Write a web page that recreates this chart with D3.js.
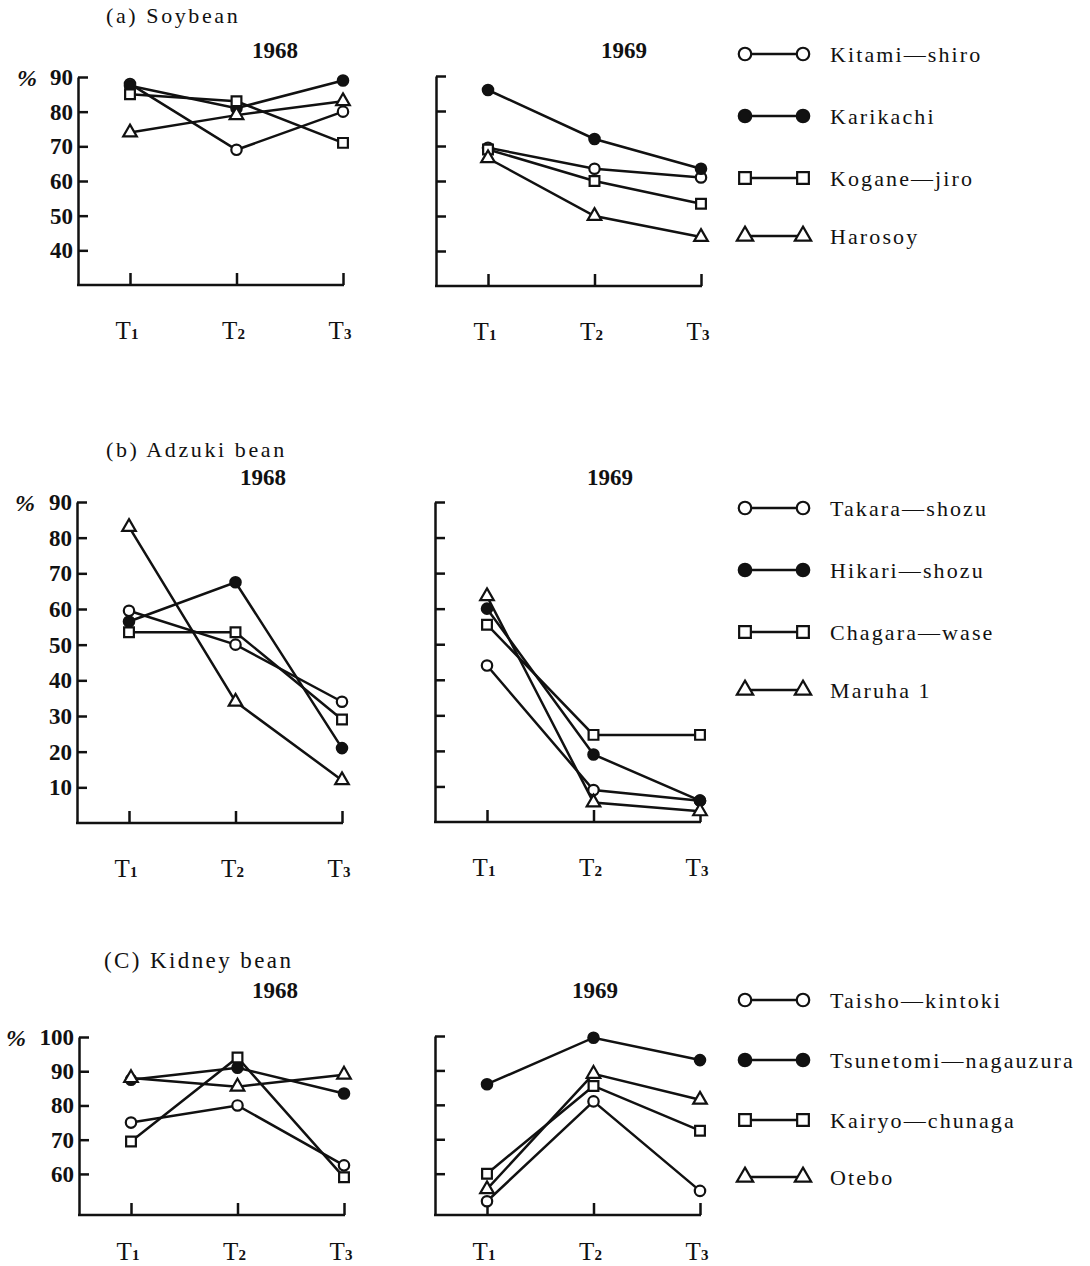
<!DOCTYPE html>
<html>
<head>
<meta charset="utf-8">
<script src="https://cdn.jsdelivr.net/npm/d3@7"></script>
<style>
  body { margin: 0; background: #fff; }
  svg { display: block; }
  text { font-family: "Liberation Serif", "DejaVu Serif", serif; fill: #111; }
</style>
</head>
<body>
<svg id="chart" width="1090" height="1266"></svg>
<script>
// Data
const timePoints = ["T1", "T2", "T3"]
const markerKinds = ["open-circle", "filled-circle", "square", "triangle"]

const soyVarieties = ["Kitami—shiro", "Karikachi", "Kogane—jiro", "Harosoy"]
const soy1968 = [[88, 69, 80], [87.5, 81, 89], [85, 83, 71], [74, 79, 83]]
const soy1969 = [[69.5, 63.5, 61], [86, 72, 63.5], [69, 60, 53.5], [66.5, 50, 44]]
const soyTicks = [40, 50, 60, 70, 80, 90]

const adzukiVarieties = ["Takara—shozu", "Hikari—shozu", "Chagara—wase", "Maruha 1"]
const adzuki1968 = [[59.5, 50, 34], [56.5, 67.5, 21], [53.5, 53.5, 29], [83, 34, 12]]
const adzuki1969 = [[44, 9, 6], [60, 19, 6], [55.5, 24.5, 24.5], [63.5, 5.5, 3]]
const adzukiTicks = [10, 20, 30, 40, 50, 60, 70, 80, 90]

const kidneyVarieties = ["Taisho—kintoki", "Tsunetomi—nagauzura", "Kairyo—chunaga", "Otebo"]
const kidney1968 = [[75, 80, 62.5], [87.5, 91, 83.5], [69.5, 94, 59], [88, 85.5, 89]]
const kidney1969 = [[52, 81, 55], [86, 99.5, 93], [60, 85.5, 72.5], [55.5, 89, 81.5]]
const kidneyTicks = [60, 70, 80, 90, 100]

const svg = d3.select("#chart")

function drawMarker(g, kind, x, y, scale) {
    const s = scale || 1
    if (kind == "open-circle" || kind == "filled-circle") {
        g.append("circle")
            .attr("cx", x).attr("cy", y).attr("r", 5.2 * s)
            .attr("fill", kind == "filled-circle" ? "#111" : "#fff")
            .attr("stroke", "#111").attr("stroke-width", 2.2)
    } else {
        const type = kind == "square" ? d3.symbolSquare : d3.symbolTriangle
        const size = (kind == "square" ? 95 : 80) * s * s
        g.append("path")
            .attr("d", d3.symbol().type(type).size(size)())
            .attr("transform", `translate(${x},${y})`)
            .attr("fill", "#fff")
            .attr("stroke", "#111").attr("stroke-width", 2.2)
    }
}

// One small panel: y axis at x0, bottom baseline at y(yMin)
function drawPanel(x0, yDomain, yRange, ticks, series, showLabels, labelGap) {
    const g = svg.append("g")
    const y = d3.scaleLinear().domain(yDomain).range(yRange)
    const x = d3.scalePoint().domain(timePoints).range([x0 + 52, x0 + 265])

    const yAxis = g.append("g")
        .attr("transform", `translate(${x0},0)`)
        .call(d3.axisLeft(y).tickValues(ticks).tickSizeInner(-10).tickSizeOuter(0)
            .tickPadding(5).tickFormat(showLabels ? d3.format("d") : ""))
    yAxis.select(".domain").attr("stroke", "#111").attr("stroke-width", 2.5)
    yAxis.selectAll(".tick line").attr("stroke", "#111").attr("stroke-width", 2.5)
    yAxis.selectAll(".tick text")
        .style("font-size", "23px").style("font-weight", "bold").attr("fill", "#111")

    const xAxis = g.append("g")
        .attr("transform", `translate(0,${yRange[0]})`)
        .call(d3.axisBottom(x).tickSizeInner(-12).tickSizeOuter(0).tickFormat(""))
    xAxis.select(".domain").remove()
    xAxis.selectAll(".tick line").attr("stroke", "#111").attr("stroke-width", 2.5)

    g.append("line")
        .attr("x1", x0 - 1).attr("x2", x("T3") + 1)
        .attr("y1", yRange[0]).attr("y2", yRange[0])
        .attr("stroke", "#111").attr("stroke-width", 2.5)

    // T1..T3 labels
    timePoints.forEach(t => {
        const lab = g.append("text")
            .attr("x", x(t) - 3).attr("y", yRange[0] + labelGap)
            .attr("text-anchor", "middle")
            .style("font-size", "25px")
        lab.append("tspan").text("T")
        lab.append("tspan").text(t.slice(1)).style("font-size", "15px").style("font-weight", "bold")
    })

    const line = d3.line().x((d, i) => x(timePoints[i])).y(d => y(d))
    series.forEach(vals => {
        g.append("path").attr("d", line(vals))
            .attr("fill", "none").attr("stroke", "#111").attr("stroke-width", 2.5)
    })
    series.forEach((vals, k) => {
        vals.forEach((v, i) => drawMarker(g, markerKinds[k], x(timePoints[i]), y(v)))
    })
    return y
}

function drawLegend(names, rowYs) {
    const g = svg.append("g")
    names.forEach((name, k) => {
        const ry = rowYs[k]
        g.append("line").attr("x1", 745).attr("x2", 803).attr("y1", ry).attr("y2", ry)
            .attr("stroke", "#111").attr("stroke-width", 2.5)
        drawMarker(g, markerKinds[k], 745, ry, 1.2)
        drawMarker(g, markerKinds[k], 803, ry, 1.2)
        g.append("text").attr("x", 830).attr("y", ry + 8)
            .style("font-size", "22px").style("letter-spacing", "2.1px")
            .text(name)
    })
}

function title(text, x, y, size, weight, spacing) {
    svg.append("text").attr("x", x).attr("y", y)
        .style("font-size", size + "px").style("font-weight", weight || "normal")
        .style("letter-spacing", (spacing || 0) + "px")
        .text(text)
}

function percent(x, y) {
    svg.append("text").attr("x", x).attr("y", y)
        .style("font-size", "24px").style("font-style", "italic").style("font-weight", "bold")
        .text("%")
}

// (a) Soybean
title("(a)  Soybean", 106, 23, 22, "normal", 2.6)
title("1968", 252, 58, 23, "bold")
title("1969", 601, 58, 23, "bold")
drawPanel(78, [30, 90], [285, 77], soyTicks, soy1968, true, 54)
drawPanel(436, [30, 90], [286, 76], soyTicks, soy1969, false, 54)
percent(17, 86)
drawLegend(soyVarieties, [54, 116, 178, 236])

// (b) Adzuki bean
title("(b)  Adzuki bean", 106, 457, 22, "normal", 2.6)
title("1968", 240, 485, 23, "bold")
title("1969", 587, 485, 23, "bold")
drawPanel(77, [0, 90], [823, 502], adzukiTicks, adzuki1968, true, 54)
drawPanel(435, [0, 90], [822, 502], adzukiTicks, adzuki1969, false, 54)
percent(15, 511)
drawLegend(adzukiVarieties, [508, 570, 632, 690])

// (c) Kidney bean
title("(C)  Kidney bean", 104, 968, 23, "normal", 2.4)
title("1968", 252, 998, 23, "bold")
title("1969", 572, 998, 23, "bold")
drawPanel(79, [48, 100], [1215, 1037], kidneyTicks, kidney1968, true, 45)
drawPanel(435, [48, 100], [1215, 1036], kidneyTicks, kidney1969, false, 45)
percent(6, 1046)
drawLegend(kidneyVarieties, [1000, 1060, 1120, 1177])
</script>
</body>
</html>
